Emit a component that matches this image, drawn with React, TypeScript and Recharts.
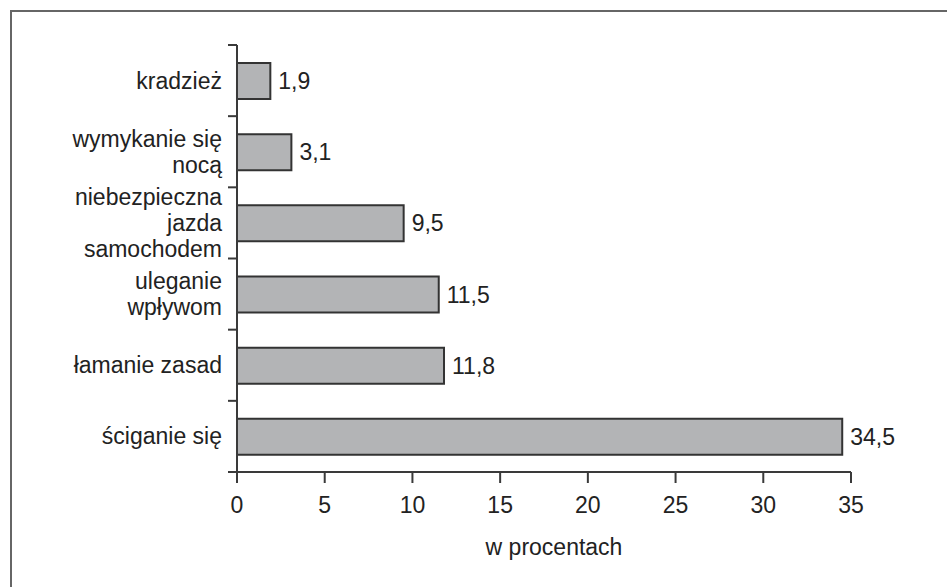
import React from 'react';
import { BarChart, Bar, XAxis, YAxis, LabelList } from 'recharts';

const categories = [
  'kradzież',
  'wymykanie się\nnocą',
  'niebezpieczna\njazda\nsamochodem',
  'uleganie\nwpływom',
  'łamanie zasad',
  'ściganie się',
];
const values = [1.9, 3.1, 9.5, 11.5, 11.8, 34.5];
const xTicks = [0, 5, 10, 15, 20, 25, 30, 35];

const data = categories.map((name, i) => ({ name, value: values[i] }));

const W = 947;
const H = 587;
const TOP = 45;
const X_AXIS_H = 115;
const PLOT_H = H - TOP - X_AXIS_H;
const BAND = PLOT_H / categories.length;
const FONT = '"Liberation Sans", Arial, Helvetica, sans-serif';
const INK = '#222';
const AXIS = '#3a3a3a';

// category label + tick marks at the band edges (the original has ticks between bars)
const CategoryTick = (props: any) => {
  const { x, y, payload, index } = props;
  const lines = String(payload.value).split('\n');
  const lh = 26;
  const axisX = x + 15;
  const first = -((lines.length - 1) * lh) / 2;
  return (
    <g>
      <line x1={axisX - 9} x2={axisX} y1={y - BAND / 2} y2={y - BAND / 2} stroke={AXIS} strokeWidth={2} />
      {index === categories.length - 1 && (
        <line x1={axisX - 9} x2={axisX} y1={y + BAND / 2} y2={y + BAND / 2} stroke={AXIS} strokeWidth={2} />
      )}
      <text x={x} y={y} textAnchor="end" fontSize={23} fill={INK} fontFamily={FONT}>
        {lines.map((l, i) => (
          <tspan key={i} x={x} dy={i === 0 ? first + 8 : lh}>
            {l}
          </tspan>
        ))}
      </text>
    </g>
  );
};

export default function App() {
  return (
    <div style={{ position: 'relative', width: W, height: H, fontFamily: FONT, background: '#fff' }}>
      <style>{`body{margin:0}`}</style>
      <div
        style={{
          position: 'absolute',
          left: 10,
          top: 10,
          width: W - 10,
          height: H - 10,
          borderTop: '2px solid #666',
          borderLeft: '2px solid #666',
          boxSizing: 'border-box',
        }}
      />
      <div style={{ position: 'absolute', left: 0, top: 0 }}>
        <BarChart
          width={W}
          height={H}
          data={data}
          layout="vertical"
          margin={{ top: TOP, right: 96, bottom: 0, left: 0 }}
        >
          <XAxis
            type="number"
            domain={[0, 35]}
            ticks={xTicks}
            interval={0}
            height={X_AXIS_H}
            tickSize={11}
            tickMargin={14}
            stroke={AXIS}
            strokeWidth={2}
            tick={{ fontSize: 23, fill: INK }}
            label={{ value: 'w procentach', position: 'insideBottom', offset: 32, dx: 10, fill: INK, fontSize: 23 }}
          />
          <YAxis
            type="category"
            dataKey="name"
            width={237}
            tickLine={false}
            tickSize={9}
            tickMargin={6}
            interval={0}
            stroke={AXIS}
            strokeWidth={2}
            tick={<CategoryTick />}
          />
          <Bar dataKey="value" fill="#b3b4b6" stroke="#333" strokeWidth={2} barSize={36} isAnimationActive={false}>
            <LabelList
              dataKey="value"
              position="right"
              offset={8}
              fill={INK}
              fontSize={23}
              formatter={(v: any) => String(v).replace('.', ',')}
            />
          </Bar>
        </BarChart>
      </div>
    </div>
  );
}
